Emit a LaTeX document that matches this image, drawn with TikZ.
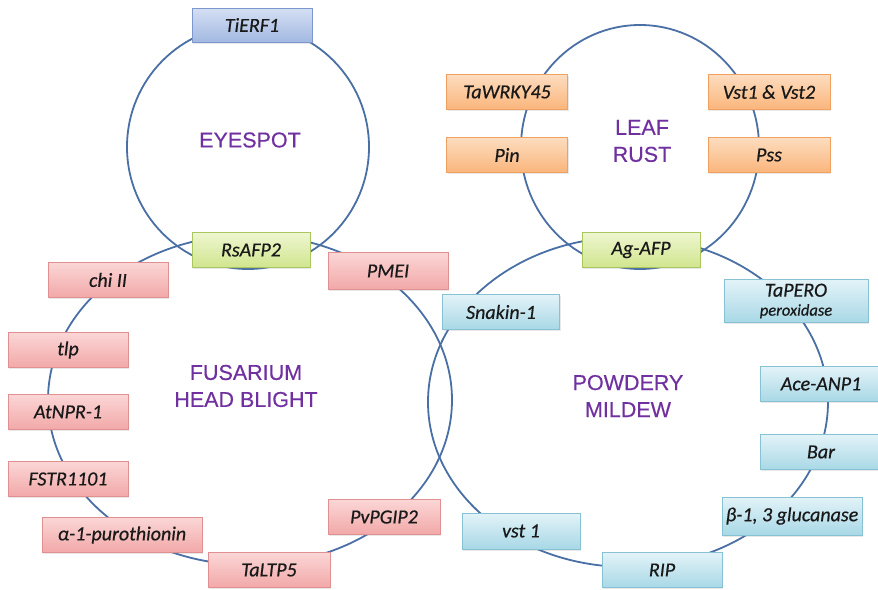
\documentclass[tikz,border=0pt]{standalone}
\usepackage{fontspec}
\setmainfont{Carlito}
\newfontfamily\genefont{Carlito}[ItalicFeatures={FakeBold=0.5}]
\newfontfamily\labelfont{Liberation Sans}[FakeBold=0.4]
\usetikzlibrary{shadows}

\definecolor{ringcol}{HTML}{4A6FA5}
\definecolor{diseasecol}{HTML}{7030A0}
\definecolor{redtop}{HTML}{FBD6D6}
\definecolor{redbot}{HTML}{F2A8A8}
\definecolor{redline}{HTML}{E09090}
\definecolor{cyantop}{HTML}{E3F3F8}
\definecolor{cyanbot}{HTML}{A8D8E6}
\definecolor{cyanline}{HTML}{86C1D4}
\definecolor{orgtop}{HTML}{FDDDC0}
\definecolor{orgbot}{HTML}{FAB57B}
\definecolor{orgline}{HTML}{F0A060}
\definecolor{grntop}{HTML}{EEF6D0}
\definecolor{grnbot}{HTML}{D0E58E}
\definecolor{grnline}{HTML}{A9C75E}
\definecolor{blutop}{HTML}{D4DFF3}
\definecolor{blubot}{HTML}{A3B9E2}
\definecolor{bluline}{HTML}{7D98CF}

\tikzset{
  ring/.style={draw=ringcol, line width=1.8pt},
  gene/.style={rectangle, line width=0.8pt, inner sep=0pt,
    minimum height=35pt, text=black!90,
    font=\genefont\fontsize{20}{23}\selectfont\itshape,
    drop shadow={opacity=0.18, shadow xshift=1.2pt, shadow yshift=-1.5pt}},
  redgene/.style={gene, draw=redline, top color=redtop, bottom color=redbot},
  cyangene/.style={gene, draw=cyanline, top color=cyantop, bottom color=cyanbot},
  orggene/.style={gene, draw=orgline, top color=orgtop, bottom color=orgbot},
  grngene/.style={gene, draw=grnline, top color=grntop, bottom color=grnbot},
  blugene/.style={gene, draw=bluline, top color=blutop, bottom color=blubot},
  disease/.style={text=diseasecol, align=center,
    font=\labelfont\fontsize{21.5}{27}\selectfont}
}

\begin{document}
\begin{tikzpicture}[x=1pt,y=-1pt]
  \useasboundingbox (0,0) rectangle (878,589);

  % the four disease rings
  \draw[ring] (248,147) ellipse [x radius=121pt, y radius=122pt];
  \draw[ring] (640,147) ellipse [x radius=119pt, y radius=122pt];
  \draw[ring] (250,400) ellipse [x radius=202pt, y radius=165pt];
  \draw[ring] (628,402) ellipse [x radius=200pt, y radius=165pt];

  % disease names
  \node[disease] (eyespot) at (250,140) {EYESPOT};
  \node[disease] (leafrust) at (642,141) {LEAF\\RUST};
  \node[disease] (fhb) at (246,386) {FUSARIUM\\HEAD BLIGHT};
  \node[disease] (pm) at (628,396) {POWDERY\\MILDEW};

  % eyespot
  \node[blugene, minimum width=120pt, minimum height=34pt] (tierf) at (252,25) {TiERF1};
  % shared genes
  \node[grngene, minimum width=118pt] (rsafp) at (251,250) {RsAFP2};
  \node[grngene, minimum width=118pt] (agafp) at (641,250) {Ag-AFP};
  % leaf rust
  \node[orggene, minimum width=121pt] (wrky) at (507,92) {TaWRKY45};
  \node[orggene, minimum width=121pt] (pin) at (507,155) {Pin};
  \node[orggene, minimum width=122pt] (vst12) at (769,92) {Vst1 \& Vst2};
  \node[orggene, minimum width=122pt] (pss) at (769,155) {Pss};
  % fusarium head blight
  \node[redgene, minimum width=120pt] (chi) at (108,280) {chi II};
  \node[redgene, minimum width=120pt, minimum height=37pt] (pmei) at (388,271) {PMEI};
  \node[redgene, minimum width=120pt] (tlp) at (68,350) {tlp};
  \node[redgene, minimum width=120pt] (npr) at (68,412) {AtNPR-1};
  \node[redgene, minimum width=120pt] (fstr) at (68,479) {FSTR1101};
  \node[redgene, minimum width=160pt] (puro) at (122,535) {α-1-purothionin};
  \node[redgene, minimum width=122pt] (ltp) at (269,570) {TaLTP5};
  \node[redgene, minimum width=112pt] (pgip) at (384,517) {PvPGIP2};
  % powdery mildew
  \node[cyangene, minimum width=144pt, minimum height=43pt, align=center] (pero) at (796,301)
    {TaPERO\\[-4pt]{\fontsize{16.5}{18}\selectfont peroxidase}};
  \node[cyangene, minimum width=117pt] (snakin) at (501,312) {Snakin-1};
  \node[cyangene, minimum width=122pt] (anp) at (821,384) {Ace-ANP1};
  \node[cyangene, minimum width=122pt] (bar) at (821,452) {Bar};
  \node[cyangene, minimum width=140pt, minimum height=38pt] (gluc) at (792,516) {β-1, 3 glucanase};
  \node[cyangene, minimum width=118pt, minimum height=36pt] (vst) at (521,531) {vst 1};
  \node[cyangene, minimum width=120pt] (rip) at (662,570) {RIP};
\end{tikzpicture}
\end{document}
